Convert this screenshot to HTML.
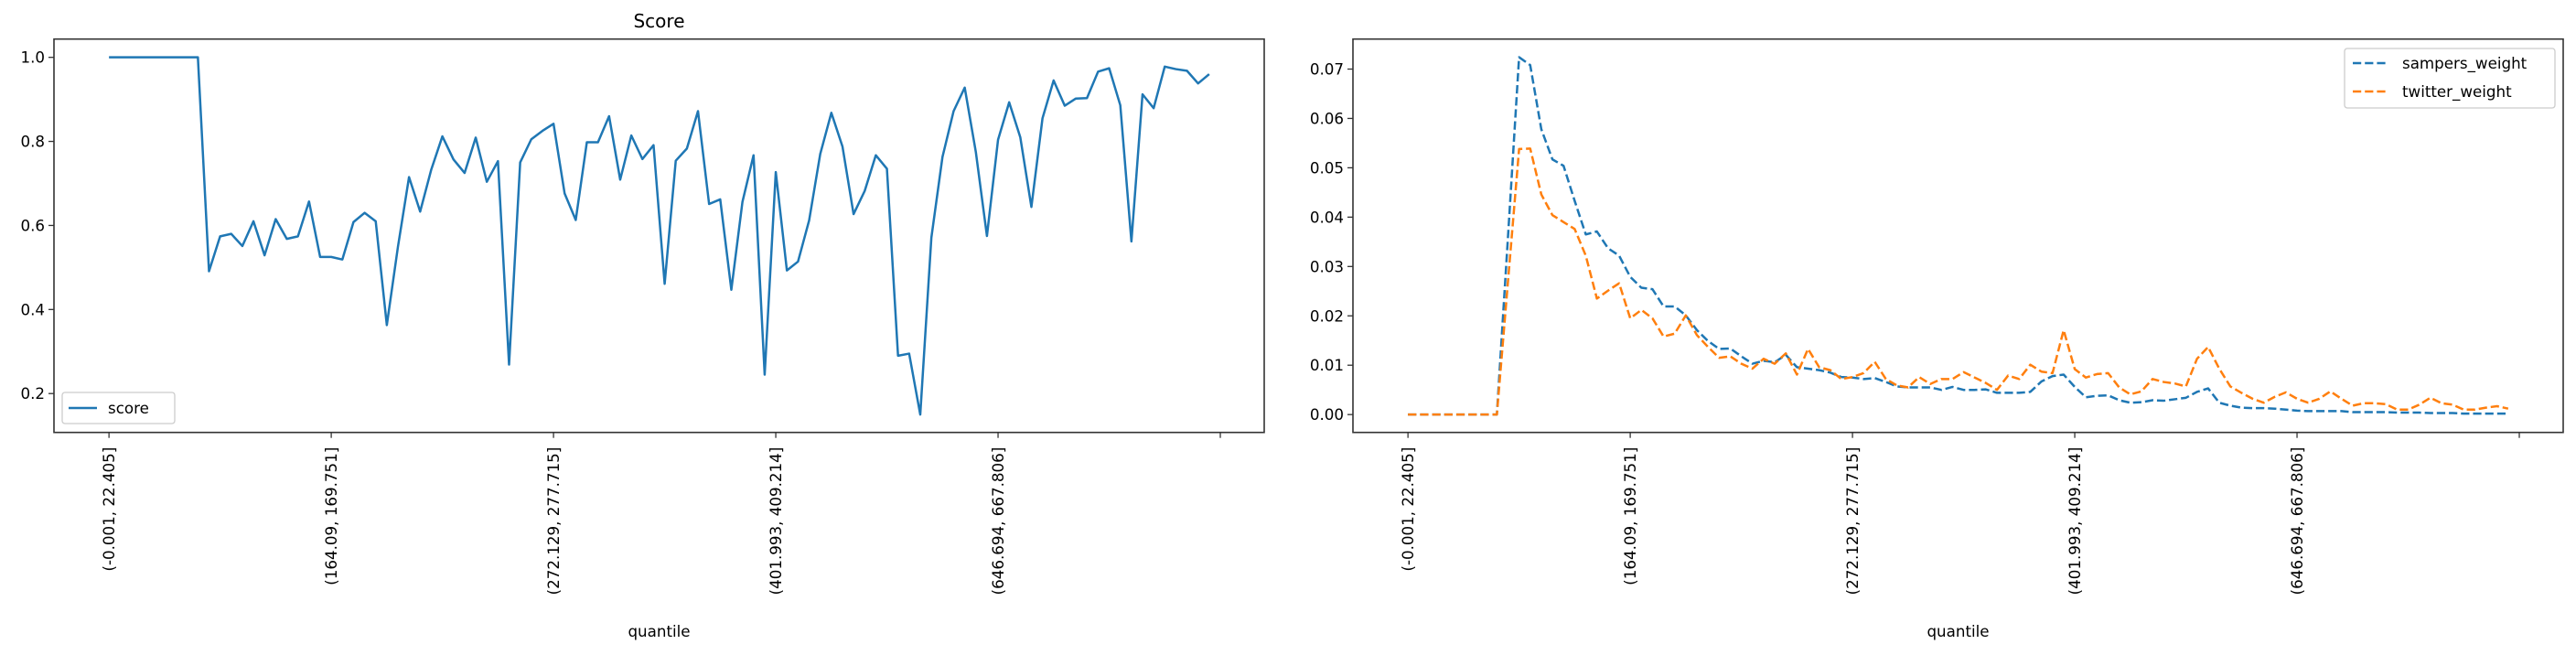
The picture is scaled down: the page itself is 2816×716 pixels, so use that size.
<!DOCTYPE html>
<html><head><meta charset="utf-8"><style>
html,body{margin:0;padding:0;background:#fff;}
svg{display:block;font-family:"DejaVu Sans","Liberation Sans",sans-serif;}
</style></head><body>
<svg id="fig" width="2816" height="716" viewBox="0 0 2816 716" xmlns="http://www.w3.org/2000/svg">
<rect width="2816" height="716" fill="#fff"/>
<g id="left"></g>
<g id="right"></g>
</svg>
<script>
const quantileLabels = ["(-0.001, 22.405]", "(164.09, 169.751]", "(272.129, 277.715]", "(401.993, 409.214]", "(646.694, 667.806]", ""];
const tickIndices = [0, 20, 40, 60, 80, 100];
const scoreValues = [1,1,1,1,1,1,1,1,1,0.491,0.574,0.580,0.551,0.610,0.529,0.615,0.568,0.574,0.657,0.525,
0.525,0.519,0.608,0.630,0.610,0.363,0.549,0.715,0.633,0.733,0.812,0.757,0.725,0.809,0.704,0.753,0.269,0.750,0.805,0.825,
0.842,0.676,0.613,0.798,0.798,0.860,0.709,0.814,0.758,0.791,0.461,0.754,0.783,0.872,0.651,0.662,0.447,0.656,0.767,0.245,
0.727,0.493,0.514,0.612,0.770,0.868,0.788,0.627,0.682,0.767,0.735,0.290,0.295,0.150,0.571,0.763,0.872,0.928,0.775,0.575,
0.804,0.893,0.810,0.644,0.855,0.945,0.885,0.902,0.903,0.966,0.974,0.886,0.562,0.912,0.879,0.978,0.972,0.968,0.938,0.960];
const sampersWeight = [0,0,0,0,0,0,0,0,0,0.036,0.0724,0.0708,0.0578,0.0517,0.0504,0.0433,0.0365,0.0371,0.0337,0.0322,
0.0279,0.0257,0.0254,0.0219,0.0219,0.0201,0.0171,0.0149,0.0133,0.0134,0.0118,0.0103,0.0109,0.0106,0.0121,0.0096,0.0093,0.0090,0.0085,0.0076,
0.0075,0.0072,0.0074,0.0066,0.0057,0.0055,0.0055,0.0055,0.0050,0.0056,0.0050,0.0050,0.0051,0.0044,0.0044,0.0044,0.0046,0.0067,0.0078,0.0081,
0.0056,0.0035,0.0038,0.0039,0.0029,0.0024,0.0025,0.0029,0.0028,0.0031,0.0034,0.0046,0.0053,0.0024,0.0018,0.0014,0.0013,0.0013,0.0012,0.0010,
0.0008,0.0007,0.0007,0.0007,0.0007,0.0005,0.0005,0.0005,0.0005,0.0004,0.0004,0.0004,0.0003,0.0003,0.0003,0.0002,0.0002,0.0002,0.0002,0.0002];
const twitterWeight = [0,0,0,0,0,0,0,0,0,0.027,0.0538,0.0539,0.0446,0.0404,0.0390,0.0376,0.0322,0.0235,0.0251,0.0266,
0.0195,0.0212,0.0195,0.0158,0.0164,0.0201,0.0161,0.0137,0.0115,0.0118,0.0103,0.0093,0.0113,0.0103,0.0124,0.0081,0.0133,0.0096,0.0090,0.0072,
0.0076,0.0084,0.0107,0.0072,0.0059,0.0055,0.0076,0.0062,0.0072,0.0072,0.0086,0.0075,0.0064,0.0050,0.0079,0.0072,0.0101,0.0087,0.0084,0.0171,
0.0092,0.0075,0.0082,0.0084,0.0055,0.0041,0.0047,0.0072,0.0066,0.0063,0.0057,0.0113,0.0137,0.0093,0.0057,0.0044,0.0032,0.0024,0.0036,0.0045,
0.0032,0.0024,0.0032,0.0047,0.0032,0.0018,0.0023,0.0023,0.0021,0.0010,0.0010,0.0020,0.0034,0.0023,0.0020,0.0010,0.0010,0.0014,0.0017,0.0012];
const scoreTicks = [0.2, 0.4, 0.6, 0.8, 1.0];
const weightTicks = [0, 0.01, 0.02, 0.03, 0.04, 0.05, 0.06, 0.07];

const NS = "http://www.w3.org/2000/svg";
function mk(parent, tag, attrs, text) {
  const e = document.createElementNS(NS, tag);
  for (const k in attrs) e.setAttribute(k, attrs[k]);
  if (text !== undefined) e.textContent = text;
  parent.appendChild(e);
  return e;
}
const TOP = 42.7, BOT = 472.7, W = 1323, FS = 16.7;

function drawAxes(g, left, yMin, yMax, yTicks, fmt, seriesList, title) {
  const n = scoreValues.length;
  const span = (n - 1) * 1.1;
  const xs = i => left + (i + 0.05 * (n - 1)) / span * W;
  const ys = v => BOT - (v - yMin) / (yMax - yMin) * (BOT - TOP);
  seriesList.forEach(s => {
    let d = "";
    s.values.forEach((v, i) => { d += (i ? "L" : "M") + xs(i).toFixed(2) + " " + ys(v).toFixed(2); });
    const p = mk(g, "path", {d: d, fill: "none", stroke: s.color, "stroke-width": 2.5, "stroke-linejoin": "round"});
    if (s.dash) p.setAttribute("stroke-dasharray", "9.2 4");
    
    
  });
  const fr = mk(g, "rect", {x: left, y: TOP, width: W, height: BOT - TOP, fill: "none", stroke: "#333", "stroke-width": 1.6});
  
  
  yTicks.forEach(t => {
    const y = ys(t);
    const tl = mk(g, "line", {x1: left - 6, x2: left, y1: y, y2: y, stroke: "#333", "stroke-width": 1.3});
    
    
    const tx = mk(g, "text", {x: left - 10, y: y + 6, "text-anchor": "end", "font-size": FS, fill: "#000"}, fmt(t));
    
    
  });
  tickIndices.forEach((ti, k) => {
    const x = xs(ti);
    const tl = mk(g, "line", {x1: x, x2: x, y1: BOT, y2: BOT + 6, stroke: "#333", "stroke-width": 1.3});
    
    
    const tx = mk(g, "text", {x: 0, y: 0, "text-anchor": "end", "font-size": FS, fill: "#000",
      transform: "translate(" + (x + 6) + "," + (BOT + 16) + ") rotate(-90)"}, quantileLabels[k]);
    
    
  });
  const xl = mk(g, "text", {x: left + W / 2, y: 696, "text-anchor": "middle", "font-size": FS, fill: "#000"}, "quantile");
  
  
  if (title) {
    const tt = mk(g, "text", {x: left + W / 2, y: 30, "text-anchor": "middle", "font-size": 20, fill: "#000"}, title);
    
    
  }
}

const gl = document.getElementById("left");
drawAxes(gl, 59, 0.1075, 1.0435, scoreTicks, v => v.toFixed(1),
  [{name: "score", values: scoreValues, color: "#1f77b4", dash: false}], "Score");
const gr = document.getElementById("right");
drawAxes(gr, 1479, -0.00362, 0.07608, weightTicks, v => v.toFixed(2),
  [{name: "sampers-weight", values: sampersWeight, color: "#1f77b4", dash: true},
   {name: "twitter-weight", values: twitterWeight, color: "#ff7f0e", dash: true}], null);

const lg1 = mk(gl, "g", {});


mk(lg1, "rect", {x: 68, y: 429, width: 123, height: 34, rx: 3, fill: "#fff", stroke: "#ccc", "stroke-width": 1.3});
const le1 = mk(lg1, "line", {x1: 75, x2: 106, y1: 446, y2: 446, stroke: "#1f77b4", "stroke-width": 2.5});


mk(lg1, "text", {x: 118, y: 452, "font-size": FS, fill: "#000"}, "score");

const lg2 = mk(gr, "g", {});


mk(lg2, "rect", {x: 2563, y: 53, width: 230, height: 65, rx: 3, fill: "#fff", stroke: "#ccc", "stroke-width": 1.3});
const le2 = mk(lg2, "line", {x1: 2572, x2: 2610, y1: 69, y2: 69, stroke: "#1f77b4", "stroke-width": 2.5, "stroke-dasharray": "9.2 4"});


mk(lg2, "text", {x: 2626, y: 75, "font-size": FS, fill: "#000"}, "sampers_weight");
const le3 = mk(lg2, "line", {x1: 2572, x2: 2610, y1: 100, y2: 100, stroke: "#ff7f0e", "stroke-width": 2.5, "stroke-dasharray": "9.2 4"});


mk(lg2, "text", {x: 2626, y: 106, "font-size": FS, fill: "#000"}, "twitter_weight");
</script>
</body></html>
